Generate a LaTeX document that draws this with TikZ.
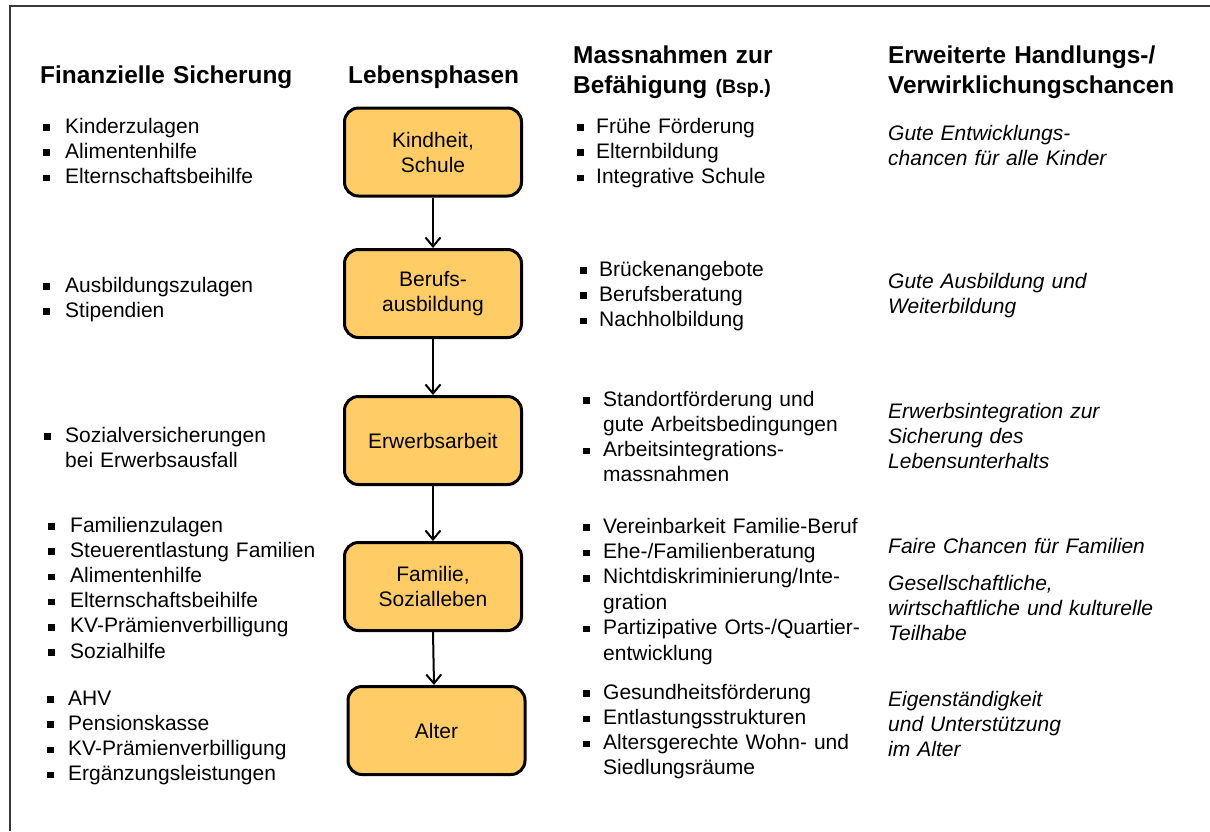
\documentclass[tikz,border=0pt]{standalone}
\usepackage{fontspec}
\setmainfont{Liberation Sans}
\usetikzlibrary{arrows.meta}
\definecolor{boxfill}{RGB}{255,204,102}
\definecolor{framegray}{RGB}{55,55,55}
\newcommand\bulsq{\rule[2.3pt]{6.5pt}{6.5pt}}
\newcommand\bi[1][22pt]{\makebox[#1][l]{\bulsq}}
\newcommand\ind[1][22pt]{\hspace*{#1}}
\begin{document}
\begin{tikzpicture}[x=1pt,y=-1pt,
  txt/.style={anchor=base west, inner sep=0pt, text width=330pt, align=left,
    font=\fontsize{21}{25.2}\selectfont},
  ittxt/.style={txt, font=\itshape\fontsize{21}{25.2}\selectfont},
  hd/.style={anchor=base west, inner sep=0pt, text width=340pt, align=left,
    font=\bfseries\fontsize{24.4}{30}\selectfont},
  phase/.style={draw=black, line width=3pt, fill=boxfill, rounded corners=14pt,
    minimum width=177pt, minimum height=88pt, align=center, inner sep=0pt,
    font=\fontsize{21}{25}\selectfont},
  arr/.style={line width=2pt, -{Straight Barb[length=9pt,width=15pt,line width=2pt]}}
]
\useasboundingbox (0,0) rectangle (1210,831);
\draw[framegray, line width=1.5pt] (10,831) -- (10,6) -- (1210,6);

% headings
\node[hd] (h1) at (40,83) {Finanzielle Sicherung};
\node[hd] (h2) at (348,83) {Lebensphasen};
\node[hd] (h3) at (573,63) {Massnahmen zur\\Befähigung {\fontsize{19.5}{30}\selectfont (Bsp.)}};
\node[hd] (h4) at (888,63) {Erweiterte Handlungs-/\\Verwirklichungschancen};

% phases
\node[phase] (b1) at (433,152) {Kindheit,\\Schule};
\node[phase] (b2) at (433,293.5) {Berufs-\\ausbildung};
\node[phase] (b3) at (433,440.5) {Erwerbsarbeit};
\node[phase] (b4) at (433,586.5) {Familie,\\Sozialleben};
\node[phase] (b5) at (436.5,730.5) {Alter};

\draw[arr] (b1.south) -- (b2.north);
\draw[arr] (b2.south) -- (b3.north);
\draw[arr] (b3.south) -- (b4.north);
\draw[arr] (b4.south) -- ([xshift=1pt]b4.south |- b5.north);

% financial security
\node[txt] (a1) at (43,133) {\bi Kinderzulagen\\\bi Alimentenhilfe\\\bi Elternschaftsbeihilfe};
\node[txt] (a2) at (43,292) {\bi Ausbildungszulagen\\\bi Stipendien};
\node[txt] (a3) at (44,442) {\bi[21pt]Sozialversicherungen\\\ind[21pt]bei Erwerbsausfall};
\node[txt] (a4) at (48,532) {\bi Familienzulagen\\\bi Steuerentlastung Familien\\\bi Alimentenhilfe\\\bi Elternschaftsbeihilfe\\\bi KV-Prämienverbilligung\\\bi Sozialhilfe};
\node[txt] (a5) at (47,705) {\bi[21pt]AHV\\\bi[21pt]Pensionskasse\\\bi[21pt]KV-Prämienverbilligung\\\bi[21pt]Ergänzungsleistungen};

% measures
\node[txt] (c1) at (577,133) {\bi[19pt]Frühe Förderung\\\bi[19pt]Elternbildung\\\bi[19pt]Integrative Schule};
\node[txt] (c2) at (580,276) {\bi[19pt]Brückenangebote\\\bi[19pt]Berufsberatung\\\bi[19pt]Nachholbildung};
\node[txt, font=\fontsize{21}{25.3}\selectfont] (c3) at (583,406) {\bi[20pt]Standortförderung und\\\ind[20pt]gute Arbeitsbedingungen\\\bi[20pt]Arbeitsintegrations-\\\ind[20pt]massnahmen};
\node[txt, font=\fontsize{21}{25.4}\selectfont] (c4) at (583,533) {\bi[20pt]Vereinbarkeit Familie-Beruf\\\bi[20pt]Ehe-/Familienberatung\\\bi[20pt]Nichtdiskriminierung/Inte-\\\ind[20pt]gration\\\bi[20pt]Partizipative Orts-/Quartier-\\\ind[20pt]entwicklung};
\node[txt, font=\fontsize{21}{25.3}\selectfont] (c5) at (583,699) {\bi[20pt]Gesundheitsförderung\\\bi[20pt]Entlastungsstrukturen\\\bi[20pt]Altersgerechte Wohn- und\\\ind[20pt]Siedlungsräume};

% chances
\node[ittxt] (d1) at (888,140) {Gute Entwicklungs-\\chancen für alle Kinder};
\node[ittxt] (d2) at (888,288) {Gute Ausbildung und\\Weiterbildung};
\node[ittxt] (d3) at (888,418) {Erwerbsintegration zur\\Sicherung des\\Lebensunterhalts};
\node[ittxt] (d4) at (888,553) {Faire Chancen für Familien};
\node[ittxt] (d5) at (888,590) {Gesellschaftliche,\\wirtschaftliche und kulturelle\\Teilhabe};
\node[ittxt] (d6) at (888,706) {Eigenständigkeit\\und Unterstützung\\im Alter};
\end{tikzpicture}
\end{document}
